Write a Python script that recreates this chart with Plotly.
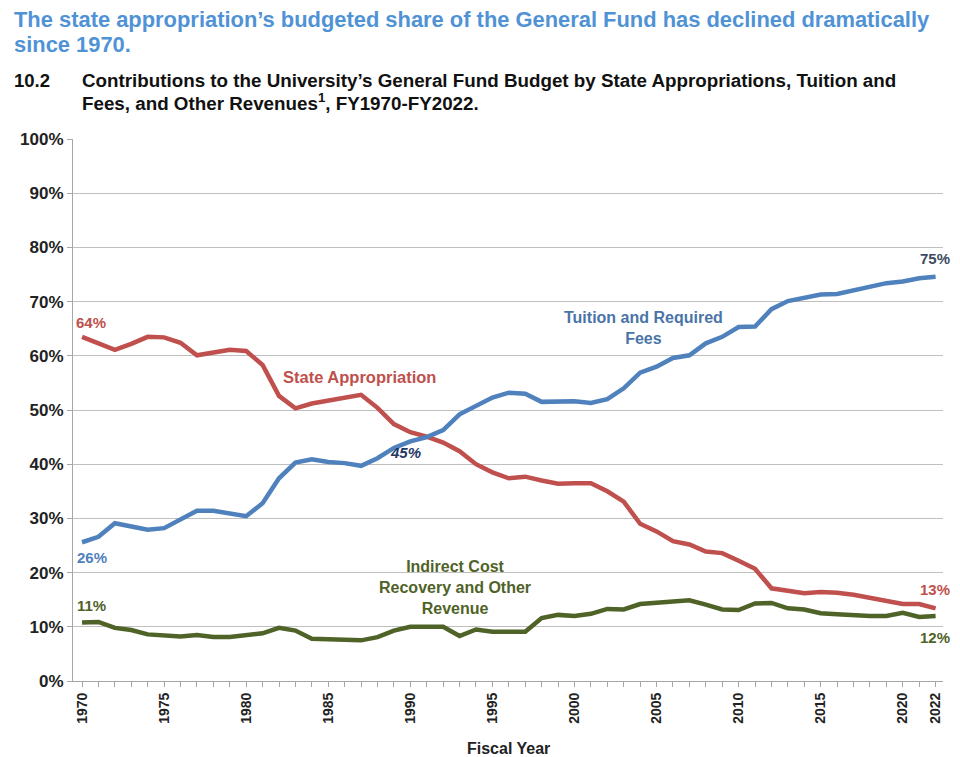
import plotly.graph_objects as go

years = list(range(1970, 2023))

state_appropriation = [
    63.5, 62.4, 61.1, 62.2, 63.5, 63.4, 62.4, 60.1, 60.5, 61.1,
    60.9, 58.3, 52.6, 50.3, 51.2, 51.8, 52.2, 52.8, 50.4, 47.4,
    45.9, 45.1, 44.0, 42.4, 40.0, 38.5, 37.4, 37.7, 37.0, 36.4,
    36.5, 36.5, 35.0, 33.1, 29.0, 27.6, 25.8, 25.2, 23.9, 23.6,
    22.2, 20.7, 17.1, 16.6, 16.2, 16.4, 16.3, 15.9, 15.3, 14.6,
    14.2, 14.2, 13.4,
]

tuition_fees = [
    25.6, 26.6, 29.1, 28.4, 27.9, 28.2, 29.7, 31.4, 31.4, 30.8,
    30.4, 32.8, 37.4, 40.3, 40.9, 40.4, 40.2, 39.7, 41.1, 43.0,
    44.2, 45.0, 46.3, 49.2, 50.7, 52.3, 53.2, 53.0, 51.5, 51.5,
    51.6, 51.3, 52.0, 54.0, 56.9, 58.0, 59.6, 60.1, 62.3, 63.5,
    65.3, 65.4, 68.6, 70.1, 70.7, 71.3, 71.4, 72.1, 72.9, 73.4,
    73.7, 74.3, 74.6,
]

other_revenue = [
    10.8, 10.9, 9.8, 9.4, 8.6, 8.5, 8.2, 8.5, 8.1, 8.1,
    8.5, 8.8, 9.8, 9.3, 7.8, 7.7, 7.5, 7.5, 8.1, 9.3,
    10.0, 10.1, 10.0, 8.3, 9.5, 9.1, 9.1, 9.1, 11.6, 12.2,
    12.0, 12.4, 13.3, 13.2, 14.2, 14.4, 14.8, 14.9, 14.1, 13.2,
    13.1, 14.3, 14.4, 13.4, 13.2, 12.5, 12.3, 12.1, 12.0, 12.0,
    12.6, 11.8, 12.0,
]

x_tick_vals = [1970, 1975, 1980, 1985, 1990, 1995, 2000, 2005, 2010, 2015, 2020, 2022]
x_tick_text = [str(v) for v in x_tick_vals]
y_tick_vals = list(range(0, 101, 10))
y_tick_text = [f"{v}%" for v in y_tick_vals]

RED = "#C0504D"
BLUE = "#4F81BD"
GREEN = "#4F6228"
FONT = "Liberation Sans, Arial, sans-serif"

W, H = 960, 757
ML, MR, MT, MB = 73, 17, 139, 76
PW, PH = W - ML - MR, H - MT - MB


def px(xp):
    return (xp - ML) / PW


def py(yp):
    return (H - MB - yp) / PH


fig = go.Figure()
fig.add_trace(go.Scatter(x=years, y=state_appropriation, mode="lines",
                         line=dict(color=RED, width=4.5), name="State Appropriation"))
fig.add_trace(go.Scatter(x=years, y=tuition_fees, mode="lines",
                         line=dict(color=BLUE, width=4.5), name="Tuition and Required Fees"))
fig.add_trace(go.Scatter(x=years, y=other_revenue, mode="lines",
                         line=dict(color=GREEN, width=4.5),
                         name="Indirect Cost Recovery and Other Revenue"))

ann = []


def add(text, x, y, color, size=16.5, xanchor="center", yanchor="middle", xref="x", yref="y",
        align="center", italic=False):
    ann.append(dict(text=f"<b>{text}</b>" if not italic else f"<b><i>{text}</i></b>",
                    x=x, y=y, xref=xref, yref=yref, showarrow=False,
                    xanchor=xanchor, yanchor=yanchor, align=align,
                    font=dict(family=FONT, size=size, color=color)))


def fmt(v):
    return f"{int(v + 0.5)}%"


# series labels
add(fmt(state_appropriation[0]), 1969.5, 66.2, RED, size=15, xanchor="left")
add(fmt(tuition_fees[0]), 1969.6, 22.7, BLUE, size=15, xanchor="left")
add(fmt(other_revenue[0]), 1969.6, 13.9, GREEN, size=15, xanchor="left")
add("State Appropriation", 1986.9, 56.1, RED)
add("Tuition and Required<br>Fees", 2004.2, 65.1, "#4A74A8", size=16)
add(fmt(tuition_fees[years.index(1991)]), 1989.7, 42.1, "#1F3864", size=15, italic=True)
add(fmt(tuition_fees[-1]), 2021.95, 78.0, "#3E4B63", size=15)
add("Indirect Cost<br>Recovery and Other<br>Revenue", 1992.7, 17.3, GREEN, size=16)
add(fmt(state_appropriation[-1]), 2021.95, 16.8, RED, size=15)
add(fmt(other_revenue[-1]), 2021.95, 8.1, GREEN, size=15)

# titles
TITLE_BLUE = "#4F93D6"
add("The state appropriation’s budgeted share of the General Fund has declined dramatically",
    px(12), py(20), TITLE_BLUE, size=21.9, xanchor="left", xref="paper", yref="paper")
add("since 1970.", px(12), py(45), TITLE_BLUE, size=21.9, xanchor="left", xref="paper", yref="paper")
add("10.2", px(12), py(80), "#111111", size=18.5, xanchor="left", xref="paper", yref="paper")
add("Contributions to the University’s General Fund Budget by State Appropriations, Tuition and",
    px(80), py(80), "#111111", size=18.8, xanchor="left", xref="paper", yref="paper")
add("Fees, and Other Revenues<sup>1</sup>, FY1970-FY2022.",
    px(80), py(102), "#111111", size=18.8, xanchor="left", xref="paper", yref="paper")
add("Fiscal Year", 0.5, py(748), "#222222", size=16, xref="paper", yref="paper")

fig.update_layout(
    width=W, height=H,
    margin=dict(l=ML, r=MR, t=MT, b=MB),
    paper_bgcolor="white", plot_bgcolor="white",
    showlegend=False,
    annotations=ann,
    font=dict(family=FONT, color="#222222"),
    shapes=[dict(type="rect", xref="paper", yref="paper",
                 x0=px(370), x1=px(540), y0=py(582), y1=py(563),
                 fillcolor="white", line=dict(width=0), layer="below")],
)
fig.update_xaxes(
    range=[1969.45, 2022.45],
    tickvals=x_tick_vals, ticktext=[f"<b>{t}</b>" for t in x_tick_text],
    tickangle=-90, tickfont=dict(family=FONT, size=14, color="#222222"),
    ticks="outside", ticklen=5, tickcolor="#A6A6A6",
    minor=dict(dtick=1, tick0=1970, ticks="outside", ticklen=5, tickcolor="#A6A6A6", showgrid=False),
    showgrid=False, showline=True, linecolor="#A6A6A6", linewidth=1,
    zeroline=False,
)
fig.update_yaxes(
    range=[0, 100],
    tickvals=y_tick_vals, ticktext=[f"<b>{t}</b>" for t in y_tick_text],
    tickfont=dict(family=FONT, size=17, color="#222222"),
    ticks="outside", ticklen=5, tickcolor="#A6A6A6",
    showgrid=True, gridcolor="#BFBFBF", gridwidth=1,
    showline=True, linecolor="#A6A6A6", linewidth=1,
    zeroline=False,
)

fig.write_html("out.html")
